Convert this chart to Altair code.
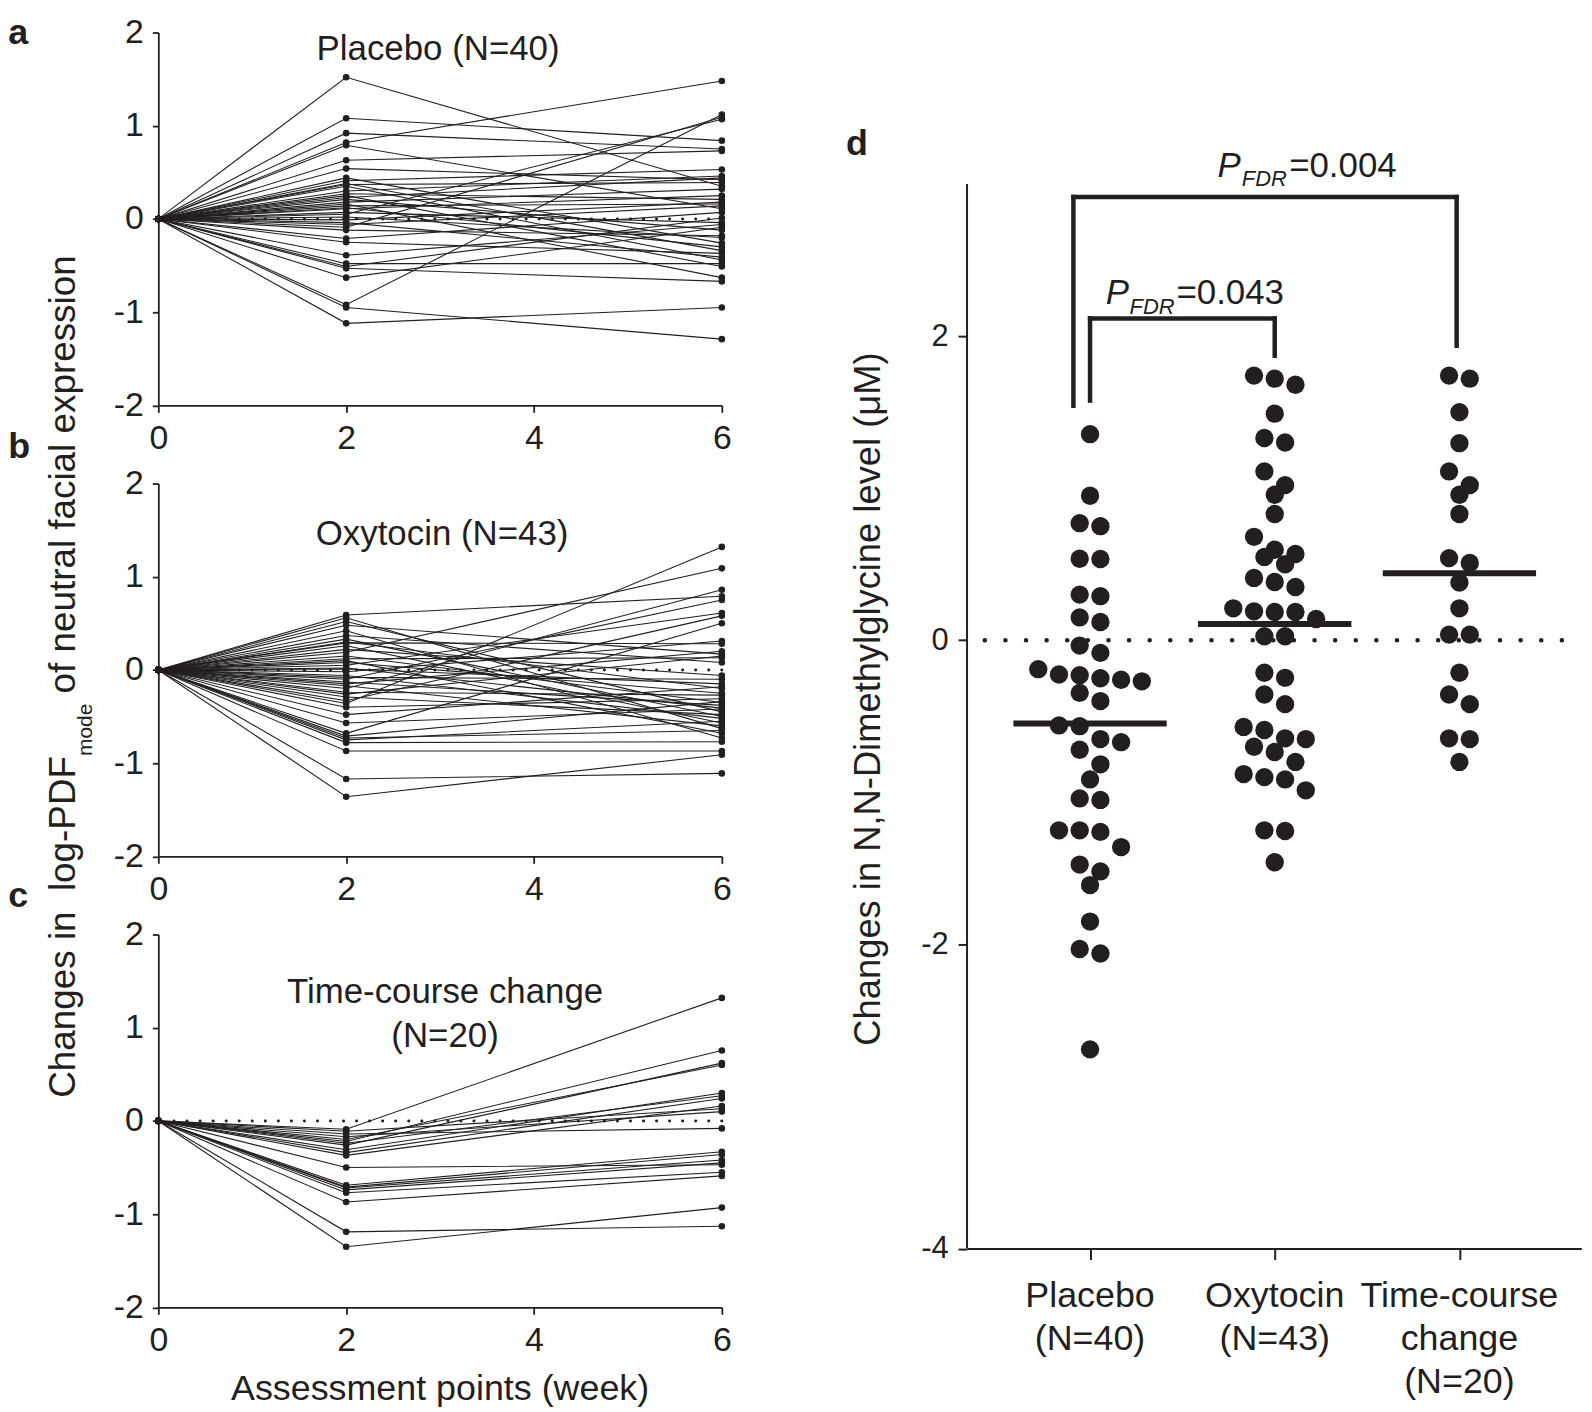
import altair as alt
import pandas as pd

FONT = "Liberation Sans"
INK = "#231f20"
MINUS = "replace(datum.label, '\u2212', '-')"

# ---------------- panels a-c: change from baseline (week 0 = 0) ----------------
WEEKS = [0, 2, 6]
PLACEBO_W2 = [1.52, 1.08, 0.92, 0.82, 0.79, 0.63, 0.54, 0.44, 0.41, 0.38, 0.37, 0.35, 0.30, 0.27,
              0.25, 0.23, 0.21, 0.18, 0.16, 0.14, 0.12, 0.11, 0.07, 0.05, 0.02, -0.01, -0.04, -0.06,
              -0.09, -0.12, -0.21, -0.25, -0.39, -0.48, -0.51, -0.53, -0.63, -0.92, -0.95, -1.12]
PLACEBO_W6 = [0.35, 0.84, 0.75, 1.48, 0.11, 0.73, 0.42, -0.26, 0.53, -0.34, 0.39, -0.44, 0.46, 0.21,
              -0.51, 0.44, -0.12, 0.32, -0.63, 0.16, -0.30, 0.25, -0.04, 1.07, -0.20, 0.18, -0.41, 0.14,
              1.09, -0.18, 0.07, -0.37, -0.06, -0.48, 0.01, -0.67, -0.09, 1.12, -1.29, -0.95]
OXY_W2 = [0.59, 0.56, 0.52, 0.48, 0.42, 0.37, 0.33, 0.30, 0.29, 0.26, 0.22, 0.19, 0.15, 0.12, 0.10,
          0.08, 0.05, 0.02, 0.01, -0.02, -0.06, -0.08, -0.10, -0.13, -0.15, -0.17, -0.20, -0.24, -0.26,
          -0.29, -0.33, -0.36, -0.40, -0.48, -0.57, -0.68, -0.71, -0.73, -0.75, -0.78, -0.87, -1.17, -1.36]
OXY_W6 = [0.79, -0.63, -0.45, 0.17, -0.73, 0.08, -0.50, -0.20, 0.28, -0.57, -0.06, 1.09, -0.35, 0.13,
          -0.68, -0.25, 0.61, -0.41, -0.15, 0.31, -0.52, -0.10, 0.75, -0.38, 0.20, -0.60, 0.86, -0.27,
          0.15, -0.48, 0.58, 1.32, -0.31, -0.18, -0.42, 0.50, -0.34, -0.65, -0.55, -0.77, -0.87, -1.11, -0.91]
TC_W2 = [-0.09, -0.11, -0.14, -0.17, -0.20, -0.22, -0.24, -0.26, -0.31, -0.34, -0.37, -0.50, -0.69,
         -0.71, -0.72, -0.74, -0.77, -0.87, -1.19, -1.35]
TC_W6 = [1.32, 0.13, -0.08, 0.10, 0.60, 0.755, 0.27, 0.62, 0.30, 0.24, 0.16, -0.47, -0.33, -0.36,
         -0.42, -0.45, -0.55, -0.59, -1.13, -0.93]

# ---------------- panel d: change in N,N-dimethylglycine (uM) ----------------
GROUP_LABELS = ["Placebo\n(N=40)", "Oxytocin\n(N=43)", "Time-course\nchange\n(N=20)"]
DMG_PLACEBO = [1.355, 0.95, 0.77, 0.75, 0.536, 0.534, 0.30, 0.29, 0.15, 0.12, -0.035, -0.083, -0.19,
               -0.225, -0.23, -0.25, -0.26, -0.27, -0.346, -0.40, -0.56, -0.565, -0.65, -0.67, -0.72,
               -0.816, -0.915, -1.04, -1.05, -1.25, -1.25, -1.26, -1.36, -1.475, -1.52, -1.61, -1.85,
               -2.03, -2.06, -2.69]
DMG_OXY = [1.74, 1.72, 1.68, 1.49, 1.33, 1.30, 1.11, 1.02, 0.957, 0.83, 0.68, 0.595, 0.567, 0.548,
           0.50, 0.41, 0.383, 0.35, 0.21, 0.19, 0.186, 0.186, 0.14, 0.026, 0.026, -0.214, -0.247,
           -0.357, -0.42, -0.57, -0.59, -0.645, -0.65, -0.70, -0.735, -0.80, -0.88, -0.90, -0.915,
           -0.987, -1.25, -1.254, -1.46]
DMG_TC = [1.74, 1.72, 1.50, 1.296, 1.11, 1.02, 0.957, 0.83, 0.54, 0.508, 0.38, 0.21, 0.037, 0.037,
          -0.214, -0.357, -0.42, -0.645, -0.65, -0.80]

# significance brackets: (x left, x right, y top, y bottom of left leg, y bottom of right leg)
BRACKETS = [(0.91, 2.985, 2.914, 1.542, 1.936),
            (1.0, 2.0, 2.116, 1.576, 1.871)]
P_VALUES = ["=0.004", "=0.043"]

# ---------------- layout constants ----------------
LW, LH = 566, 374.5
DW, DH = 617, 1221.5
Y_TOP_D = 3.996
XS_L = alt.Scale(domain=[0, 6], nice=False, zero=False)
YS_L = alt.Scale(domain=[-2, 2], nice=False, zero=False)
XD = alt.Scale(domain=[0.334, 3.66], nice=False, zero=False)
YD = alt.Scale(domain=[-4, Y_TOP_D], nice=False, zero=False)

AX = dict(domainColor=INK, domainWidth=1.8, tickColor=INK, tickWidth=1.8, grid=False,
          labelFont=FONT, labelFontSize=34, labelColor=INK, labelFlush=False,
          labelOverlap=False, labelExpr=MINUS, title=None)
XAX_L = alt.Axis(values=[0, 2, 4, 6], tickSize=7, labelPadding=9, **AX)
YAX_L = alt.Axis(values=[-2, -1, 0, 1, 2], tickSize=6, labelPadding=9, **AX)
XAX_D = alt.Axis(values=[1, 2, 3], labels=False, title=None, tickSize=11, tickWidth=2,
                 domainWidth=2, domainColor=INK, tickColor=INK, grid=False)
YAX_D = alt.Axis(values=[-4, -2, 0, 2], domain=False, title=None, tickSize=9, tickWidth=2,
                 tickColor=INK, labelFont=FONT, labelFontSize=31, labelColor=INK,
                 labelPadding=10, labelExpr=MINUS, grid=False, labelFlush=False, labelOverlap=False)


def txt(text, x, y, size=34, **kw):
    return alt.Chart(pd.DataFrame({"t": [text]})).mark_text(
        font=FONT, fontSize=size, color=INK, **kw
    ).encode(text="t:N", x=alt.value(x), y=alt.value(y))


def line_panel(w2, w6, extras):
    rows = []
    for sid, (a, b) in enumerate(zip(w2, w6)):
        for wk, v in zip(WEEKS, [0.0, a, b]):
            rows.append({"sid": sid, "week": wk, "change": v})
    df = pd.DataFrame(rows)
    base = alt.Chart(df)
    x = alt.X("week:Q", scale=XS_L, axis=XAX_L)
    y = alt.Y("change:Q", scale=YS_L, axis=YAX_L)
    lines = base.mark_line(color=INK, strokeWidth=1.1).encode(x=x, y=y, detail="sid:N")
    pts = base.mark_circle(color=INK, size=44, opacity=1).encode(x=x, y=y)
    zero = alt.Chart(pd.DataFrame({"week": [0.0], "change": [0.0]})).mark_rule(
        color=INK, strokeWidth=3, strokeDash=[0.1, 13], strokeCap="round"
    ).encode(y=y)
    return alt.layer(lines, zero, pts, *extras).properties(width=LW, height=LH)


bold = dict(fontWeight="bold", align="left", baseline="alphabetic")
mid = dict(align="center", baseline="alphabetic")
LAB_X = -150.7

panel_a = line_panel(PLACEBO_W2, PLACEBO_W6, [
    txt("Placebo (N=40)", 281, 28, 35, **mid),
    txt("a", LAB_X, 12, 36, **bold),
])

rot = dict(angle=270, align="left", baseline="alphabetic")
panel_b = line_panel(OXY_W2, OXY_W6, [
    txt("Oxytocin (N=43)", 285, 62, 35, **mid),
    txt("b", LAB_X, -25.3, 36, **bold),
    txt("Changes in", -83.7, 617, 37, **rot),
    txt("log-PDF", -83.7, 409.4, 37, **rot),
    txt("mode", -67, 273.7, 21, **rot),
    txt("of neutral facial expression", -83.7, 210.9, 37, **rot),
])

panel_c = line_panel(TC_W2, TC_W6, [
    txt("Time-course change\n(N=20)", 288, 69, 35, lineBreak="\n", lineHeight=44, **mid),
    txt("c", LAB_X, -27.5, 36, **bold),
    txt("Assessment points (week)", 283, LH + 93, 36, **mid),
])

left = alt.vconcat(panel_a, panel_b, panel_c, spacing=78, bounds="flush")


# ---------------- panel d ----------------
def swarm(vals, gx, d_px=20.8, ypx=DH / (Y_TOP_D + 4), xpx=DW / 3.326):
    order = sorted(range(len(vals)), key=lambda i: -vals[i])
    out = [0.0] * len(vals)
    i = 0
    while i < len(order):
        row = [order[i]]
        j = i + 1
        while j < len(order) and (vals[order[i]] - vals[order[j]]) * ypx < 0.9 * d_px:
            row.append(order[j])
            j += 1
        n = len(row)
        for k, idx in enumerate(row):
            out[idx] = gx + (k - (n - 1) / 2) * d_px / xpx
        i = j
    return out


d_rows = []
for gi, vals in enumerate([DMG_PLACEBO, DMG_OXY, DMG_TC], start=1):
    for v, xp in zip(vals, swarm(vals, gi)):
        d_rows.append({"group": gi, "value": v, "xpos": xp})
d_df = pd.DataFrame(d_rows)

dots = alt.Chart(d_df).mark_circle(size=340, color=INK, opacity=1).encode(
    x=alt.X("xpos:Q", scale=XD, axis=XAX_D),
    y=alt.Y("value:Q", scale=YD, axis=YAX_D),
)

means = alt.Chart(d_df).transform_aggregate(
    m="mean(value)", groupby=["group"]
).transform_calculate(
    x1="datum.group - 0.415", x2="datum.group + 0.415"
).mark_rule(color=INK, strokeWidth=6).encode(
    x=alt.X("x1:Q", scale=XD, axis=XAX_D), x2="x2:Q", y=alt.Y("m:Q", scale=YD, axis=YAX_D))

zero_d = alt.Chart(pd.DataFrame({"z": [0.0]})).mark_rule(
    color=INK, strokeWidth=4.5, strokeDash=[0.1, 20.6], strokeCap="round", strokeDashOffset=1.2
).encode(y=alt.Y("z:Q", scale=YD, axis=YAX_D))

yline = alt.Chart(pd.DataFrame({"a": [-4.0], "b": [3.0]})).mark_rule(
    color=INK, strokeWidth=2).encode(
    x=alt.value(0), y=alt.Y("a:Q", scale=YD, axis=YAX_D), y2="b:Q")

seg = []
for (xl, xr, yt, yl, yr) in BRACKETS:
    seg += [dict(xa=xl, xb=xr, ya=yt, yb=yt), dict(xa=xl, xb=xl, ya=yl, yb=yt),
            dict(xa=xr, xb=xr, ya=yr, yb=yt)]
brackets = alt.Chart(pd.DataFrame(seg)).mark_rule(
    color=INK, strokeWidth=4.5, strokeCap="square").encode(
    x=alt.X("xa:Q", scale=XD, axis=XAX_D), x2="xb:Q",
    y=alt.Y("ya:Q", scale=YD, axis=YAX_D), y2="yb:Q")

p_df = pd.DataFrame({
    "p": ["P", "P"], "sub": ["FDR", "FDR"], "rest": P_VALUES,
    "xp": [1.690, 1.085], "xs": [1.822, 1.214], "xr": [2.078, 1.468],
    "yp": [3.049, 2.209], "ys": [2.990, 2.147],
})
pbase = alt.Chart(p_df)
p_main = pbase.mark_text(font=FONT, fontSize=35, fontStyle="italic", color=INK, align="left",
                         baseline="alphabetic").encode(
    text="p:N", x=alt.X("xp:Q", scale=XD, axis=XAX_D), y=alt.Y("yp:Q", scale=YD, axis=YAX_D))
p_sub = pbase.mark_text(font=FONT, fontSize=22, fontStyle="italic", color=INK, align="left",
                        baseline="alphabetic").encode(
    text="sub:N", x=alt.X("xs:Q", scale=XD, axis=XAX_D), y=alt.Y("ys:Q", scale=YD, axis=YAX_D))
p_rest = pbase.mark_text(font=FONT, fontSize=35, color=INK, align="left",
                         baseline="alphabetic").encode(
    text="rest:N", x=alt.X("xr:Q", scale=XD, axis=XAX_D), y=alt.Y("yp:Q", scale=YD, axis=YAX_D))

cat_labels = alt.Chart(pd.DataFrame({"group": [1, 2, 3], "lab": GROUP_LABELS})).mark_text(
    font=FONT, fontSize=36, color=INK, align="center", baseline="alphabetic", lineBreak="\n",
    lineHeight=43).encode(text="lab:N", x=alt.X("group:Q", scale=XD, axis=XAX_D), y=alt.value(1280.5))

panel_d = alt.layer(
    dots, zero_d, yline, brackets, means, p_main, p_sub, p_rest, cat_labels,
    txt("Changes in N,N-Dimethylglycine level (\u03bcM)", -87, 669.5, 36.5, angle=270,
        align="center", baseline="alphabetic"),
    txt("d", -121.5, 123.5, 36, **bold),
).properties(width=DW, height=DH)

chart = alt.hconcat(left, panel_d, spacing=812.3, bounds="flush").properties(
    padding={"left": 0, "top": 4.5, "right": 0, "bottom": 0}
).configure(font=FONT).configure_view(stroke=None)

chart.save("out.html", embed_options={"renderer": "svg", "actions": False})
